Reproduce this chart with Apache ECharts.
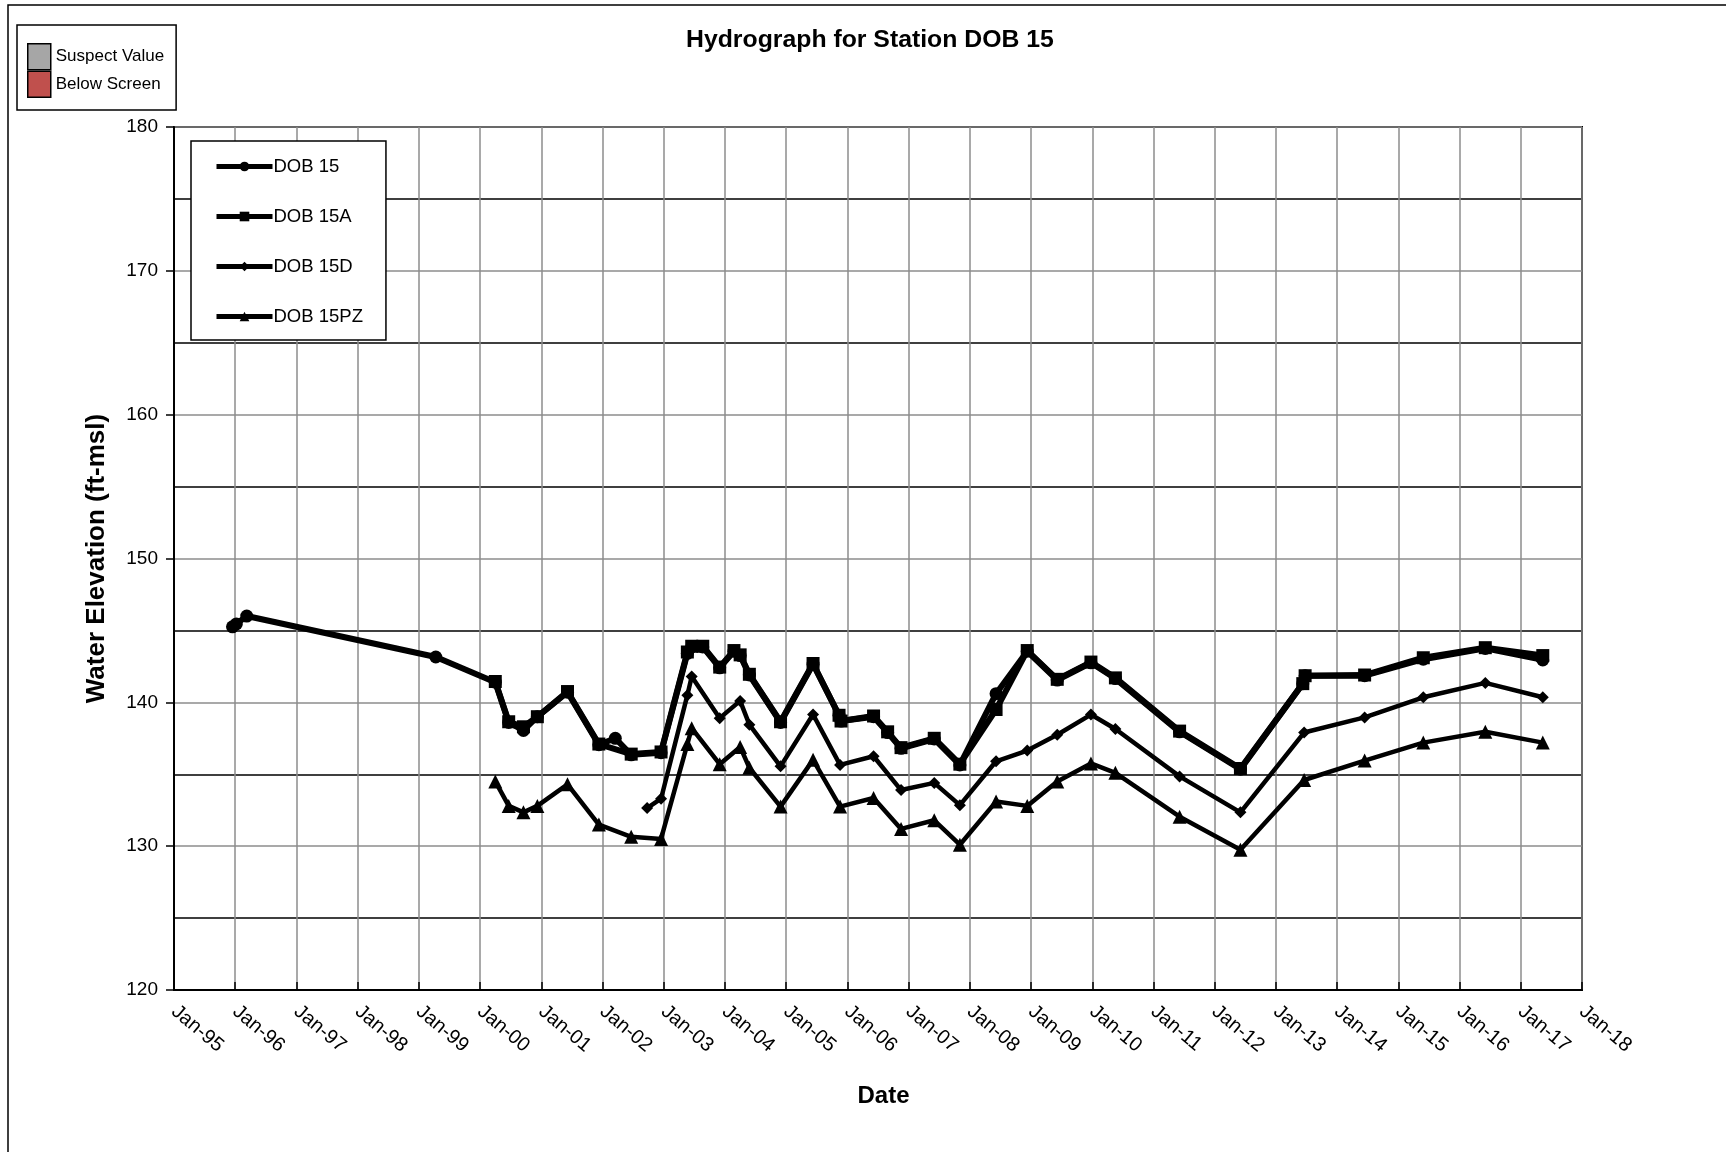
<!DOCTYPE html>
<html lang="en">
<head>
    <meta charset="UTF-8">
    <title>Hydrograph for Station DOB 15</title>
    <script src="https://cdn.jsdelivr.net/npm/echarts@6.0.0/dist/echarts.min.js"></script>
    <style>
        html, body { margin: 0; padding: 0; background: #fff; }
        #chart { width: 1726px; height: 1152px; }
    </style>
</head>
<body>
    <div id="chart"></div>
    <script>
        // readings taken off the hydrograph (ft-msl)
        const dob15Dates = ['1995-12-16', '1996-01-08', '1996-03-10', '1999-04-12',
            '2000-04-01', '2000-06-20', '2000-09-16', '2000-12-08', '2001-06-06', '2001-12-10',
            '2002-03-18', '2002-06-21', '2002-12-16', '2003-05-22', '2003-06-17', '2003-08-22',
            '2003-12-01', '2004-02-24', '2004-04-01', '2004-05-26', '2004-11-28', '2005-06-10',
            '2005-11-12', '2005-11-24', '2006-06-06', '2006-08-29', '2006-11-17', '2007-06-03',
            '2007-11-03', '2008-06-06', '2008-12-09', '2009-06-06', '2009-12-24', '2010-05-19',
            '2011-06-06', '2012-06-03', '2013-06-10', '2013-06-24', '2014-06-14', '2015-05-30',
            '2016-06-03', '2017-05-12'];
        const dob15Values = [145.25, 145.45, 146.0, 143.15,
            141.4, 138.6, 138.05, 139.0, 140.7, 137.05,
            137.5, 136.35, 136.5, 143.4, 143.85, 143.85,
            142.4, 143.55, 143.25, 141.9, 138.6, 142.65,
            139.1, 138.7, 139.0, 137.9, 136.8, 137.45,
            135.65, 140.6, 143.55, 141.55, 142.75, 141.65,
            137.95, 135.35, 141.3, 141.85, 141.85, 143.0,
            143.75, 142.95];

        const dob15aDates = ['2000-04-01', '2000-06-20', '2000-09-16', '2000-12-08', '2001-06-06',
            '2001-12-10', '2002-06-21', '2002-12-16', '2003-05-22', '2003-06-17', '2003-08-22',
            '2003-12-01', '2004-02-24', '2004-04-01', '2004-05-26', '2004-11-28', '2005-06-10',
            '2005-11-12', '2005-11-24', '2006-06-06', '2006-08-29', '2006-11-17', '2007-06-03',
            '2007-11-03', '2008-06-06', '2008-12-09', '2009-06-06', '2009-12-24', '2010-05-19',
            '2011-06-06', '2012-06-03', '2013-06-10', '2013-06-24', '2014-06-14', '2015-05-30',
            '2016-06-03', '2017-05-12'];
        const dob15aValues = [141.45, 138.65, 138.3, 139.0, 140.75,
            137.1, 136.4, 136.55, 143.5, 143.9, 143.9,
            142.45, 143.6, 143.3, 141.95, 138.65, 142.7,
            139.1, 138.7, 139.05, 137.95, 136.85, 137.5,
            135.7, 139.5, 143.6, 141.6, 142.8, 141.7,
            138.0, 135.4, 141.3, 141.85, 141.9, 143.1,
            143.8, 143.25];

        const dob15dDates = ['2002-09-24', '2002-12-16', '2003-05-22', '2003-06-17', '2003-12-01',
            '2004-04-01', '2004-05-26', '2004-11-28', '2005-06-10', '2005-11-18', '2006-06-06',
            '2006-11-17', '2007-06-03', '2007-11-03', '2008-06-06', '2008-12-09', '2009-06-06',
            '2009-12-24', '2010-05-19', '2011-06-06', '2012-06-03', '2013-06-18', '2014-06-14',
            '2015-05-30', '2016-06-03', '2017-05-12'];
        const dob15dValues = [132.65, 133.3, 140.5, 141.8, 138.9,
            140.1, 138.45, 135.55, 139.15, 135.65, 136.25,
            133.9, 134.4, 132.85, 135.9, 136.65, 137.75,
            139.15, 138.15, 134.85, 132.35, 137.9, 138.95,
            140.35, 141.35, 140.35];

        const dob15pzDates = ['2000-04-01', '2000-06-20', '2000-09-16', '2000-12-08', '2001-06-06',
            '2001-12-10', '2002-06-21', '2002-12-16', '2003-05-22', '2003-06-17', '2003-12-01',
            '2004-04-01', '2004-05-26', '2004-11-28', '2005-06-10', '2005-11-18', '2006-06-06',
            '2006-11-17', '2007-06-03', '2007-11-03', '2008-06-06', '2008-12-09', '2009-06-06',
            '2009-12-24', '2010-05-19', '2011-06-06', '2012-06-03', '2013-06-18', '2014-06-14',
            '2015-05-30', '2016-06-03', '2017-05-12'];
        const dob15pzValues = [134.5, 132.8, 132.35, 132.8, 134.3,
            131.5, 130.65, 130.5, 137.1, 138.2, 135.7,
            136.9, 135.45, 132.75, 136.0, 132.75, 133.35,
            131.2, 131.8, 130.1, 133.1, 132.8, 134.5,
            135.75, 135.1, 132.05, 129.75, 134.6, 135.95,
            137.2, 137.95, 137.2];

        const monthNames = ['Jan', 'Feb', 'Mar', 'Apr', 'May', 'Jun', 'Jul', 'Aug', 'Sep', 'Oct', 'Nov', 'Dec'];
        const FONT = '"Liberation Sans", Arial, sans-serif';
        const xMin = new Date(1995, 0, 1).getTime();
        const xMax = new Date(2018, 0, 1).getTime();

        function pairs(dates, values) {
            return dates.map((d, i) => [d, values[i]]);
        }

        function wellSeries(name, dates, values, symbol, width, size) {
            return {
                name: name,
                type: 'line',
                data: pairs(dates, values),
                symbol: symbol,
                symbolSize: size,
                color: '#000',
                lineStyle: { color: '#000', width: width },
                itemStyle: { color: '#000' },
                emphasis: { disabled: true }
            };
        }

        const chart = echarts.init(document.getElementById('chart'));
        chart.setOption({
            animation: false,
            backgroundColor: '#fff',
            textStyle: { fontFamily: FONT, color: '#000' },
            title: {
                text: 'Hydrograph for Station DOB 15',
                left: 686,
                top: 28,
                padding: 0,
                textStyle: { fontFamily: FONT, fontSize: 24.8, fontWeight: 'bold', color: '#000' }
            },
            graphic: [{
                // outer frame of the page, runs off the right and bottom edges
                type: 'rect',
                silent: true,
                z: -10,
                shape: { x: 8, y: 5, width: 1900, height: 1400 },
                style: { fill: 'none', stroke: '#000', lineWidth: 1.5 }
            }],
            legend: [{
                data: ['DOB 15', 'DOB 15A', 'DOB 15D', 'DOB 15PZ'],
                orient: 'vertical',
                left: 191,
                top: 141,
                padding: [16, 23, 14, 23],
                itemWidth: 56,
                itemHeight: 12,
                itemGap: 31,
                itemTextGap: 0,
                selectedMode: false,
                backgroundColor: '#fff',
                borderColor: '#000',
                borderWidth: 1.5,
                lineStyle: { width: 5 },
                textStyle: { fontFamily: FONT, fontSize: 18.5, color: '#000', padding: [0, 0, 0, -4] }
            }, {
                data: [{ name: 'Suspect Value', icon: 'rect' }, { name: 'Below Screen', icon: 'rect' }],
                orient: 'vertical',
                left: 17,
                top: 25,
                padding: [18, 12, 12, 10],
                itemWidth: 23,
                itemHeight: 26,
                itemGap: 0,
                itemTextGap: 4,
                selectedMode: false,
                borderColor: '#000',
                borderWidth: 1.5,
                itemStyle: { borderColor: '#000', borderWidth: 1.5, opacity: 1 },
                textStyle: { fontFamily: FONT, fontSize: 17, color: '#000' }
            }],
            grid: {
                left: 174,
                right: 144,
                top: 127,
                bottom: 162,
                show: true,
                backgroundColor: '#fff',
                borderColor: '#000',
                borderWidth: 2
            },
            xAxis: {
                type: 'time',
                min: xMin,
                max: xMax,
                splitNumber: 23,
                name: 'Date',
                nameLocation: 'middle',
                nameGap: 90,
                nameTextStyle: {
                    fontFamily: FONT, fontSize: 24, fontWeight: 'bold', color: '#000',
                    padding: [4, 0, 0, 11]
                },
                axisLine: { lineStyle: { color: '#000', width: 2 } },
                axisTick: { inside: true, length: 8, lineStyle: { color: '#000', width: 1.5 } },
                axisLabel: {
                    rotate: -40,
                    margin: 19,
                    showMinLabel: true,
                    showMaxLabel: true,
                    fontFamily: FONT,
                    fontSize: 20,
                    color: '#000',
                    formatter: function (value) {
                        const d = new Date(value);
                        return monthNames[d.getMonth()] + '-' + String(d.getFullYear()).slice(2);
                    }
                },
                splitLine: { show: true, lineStyle: { color: '#8c8c8c', width: 1.5 } }
            },
            yAxis: {
                type: 'value',
                min: 120,
                max: 180,
                interval: 10,
                name: 'Water Elevation (ft-msl)',
                nameLocation: 'middle',
                nameGap: 64,
                nameTextStyle: { fontFamily: FONT, fontSize: 26, fontWeight: 'bold', color: '#000' },
                axisLine: { show: true, lineStyle: { color: '#000', width: 2 } },
                axisTick: { show: true, length: 8, lineStyle: { color: '#000', width: 1.5 } },
                axisLabel: { margin: 16, fontFamily: FONT, fontSize: 19, color: '#000' },
                splitLine: { show: true, lineStyle: { color: '#8c8c8c', width: 1.5 } },
                minorTick: { show: false, splitNumber: 2 },
                minorSplitLine: { show: true, lineStyle: { color: '#000', width: 1.5 } }
            },
            series: [
                wellSeries('DOB 15', dob15Dates, dob15Values, 'circle', 6, 13),
                wellSeries('DOB 15A', dob15aDates, dob15aValues, 'rect', 6, 13),
                wellSeries('DOB 15D', dob15dDates, dob15dValues, 'diamond', 4.5, 12),
                wellSeries('DOB 15PZ', dob15pzDates, dob15pzValues, 'triangle', 4.5, 14),
                // legend-only entries for the flag colours
                { name: 'Suspect Value', type: 'scatter', data: [], color: '#a6a6a6', itemStyle: { opacity: 1 } },
                { name: 'Below Screen', type: 'scatter', data: [], color: '#c0504d', itemStyle: { opacity: 1 } }
            ]
        });
    </script>
</body>
</html>
